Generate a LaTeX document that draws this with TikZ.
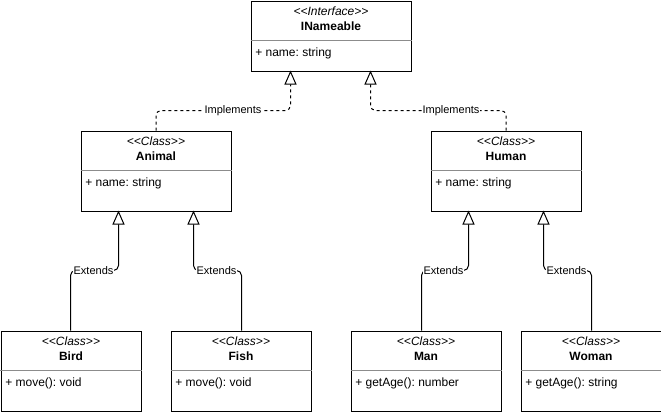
\documentclass[tikz,border=0pt]{standalone}
\usepackage{fontspec}
\setmainfont{Liberation Sans}
\frenchspacing
\usetikzlibrary{arrows.meta,calc}
\tikzset{
  px/.style={x=0.75pt,y=-0.75pt},
  box/.style={draw=black,line width=0.75pt,fill=white,rectangle,inner sep=0pt,anchor=north west},
  sep/.style={draw=black!45,line width=0.75pt},
  stereo/.style={inner sep=0pt,font=\fontsize{9}{11}\selectfont\itshape},
  title/.style={inner sep=0pt,font=\fontsize{9}{11}\selectfont\bfseries},
  attr/.style={inner sep=0pt,anchor=west,font=\fontsize{9}{11}\selectfont},
  lbl/.style={inner sep=0.5pt,fill=white,font=\fontsize{8.25}{10}\selectfont},
  opentri/.style={-{Triangle[open,length=10.5pt,width=9pt]}},
  impl/.style={opentri,line width=0.75pt,dash pattern=on 2.25pt off 2.25pt,rounded corners=3.75pt},
  ext/.style={opentri,line width=0.75pt,rounded corners=3.75pt}
}
\newcommand\umlbox[8]{%
  \node[box,minimum width=#4*0.75pt,minimum height=#5*0.75pt] (#1) at (#2,#3) {};
  \node[stereo] (#1-s) at ($(#1.north)+(0,11)$) {<\kern0pt<#6>\kern0pt>};
  \node[title] (#1-t) at ($(#1.north)+(0,26)$) {#7};
  \draw[sep] ($(#1.north west)+(0,40)$) -- ($(#1.north east)+(0,40)$);
  \node[attr] (#1-a) at ($(#1.north west)+(4.5,53)$) {#8};
}
\begin{document}
\begin{tikzpicture}[px]
\useasboundingbox (0,0) rectangle (661,411);
\umlbox{iname}{250.5}{0.5}{160}{70}{Interface}{INameable}{+ name: string}
\umlbox{animal}{80.5}{130.5}{150}{80}{Class}{Animal}{+ name: string}
\umlbox{human}{430.5}{130.5}{150}{80}{Class}{Human}{+ name: string}
\umlbox{bird}{0.5}{330.5}{140}{80}{Class}{Bird}{+ move(): void}
\umlbox{fish}{170.5}{330.5}{140}{80}{Class}{Fish}{+ move(): void}
\umlbox{man}{350.5}{330.5}{150}{80}{Class}{Man}{+ getAge(): number}
\umlbox{woman}{520.5}{330.5}{140}{80}{Class}{Woman}{+ getAge(): string}
% arrow targets
\coordinate (tA) at (290.5,70.5);
\coordinate (tH) at (370.5,70.5);
\coordinate (tB) at (118.5,210.5);
\coordinate (tF) at (193.5,210.5);
\coordinate (tM) at (468.5,210.5);
\coordinate (tW) at (543.5,210.5);
% implements
\draw[impl] (animal.north) |- ($(tA)+(0,40)$) -- (tA);
\draw[impl] (human.north) |- ($(tH)+(0,40)$) -- (tH);
\node[lbl] (lA) at (233,110.5) {Implements};
\node[lbl] (lH) at (451,110.5) {Implements};
% extends
\draw[ext] ($(bird.north)+(-0.5,0)$) |- ($(tB)+(0,60)$) -- (tB);
\draw[ext] ($(fish.north)+(0.5,0)$) |- ($(tF)+(0,60)$) -- (tF);
\draw[ext] ($(man.north)+(-4.5,0)$) |- ($(tM)+(0,60)$) -- (tM);
\draw[ext] ($(woman.north)+(0.5,0)$) |- ($(tW)+(0,60)$) -- (tW);
\node[lbl] (lB) at (93.5,270.5) {Extends};
\node[lbl] (lF) at (216.5,270.5) {Extends};
\node[lbl] (lM) at (443.5,270.5) {Extends};
\node[lbl] (lW) at (566.5,270.5) {Extends};
\end{tikzpicture}
\end{document}
